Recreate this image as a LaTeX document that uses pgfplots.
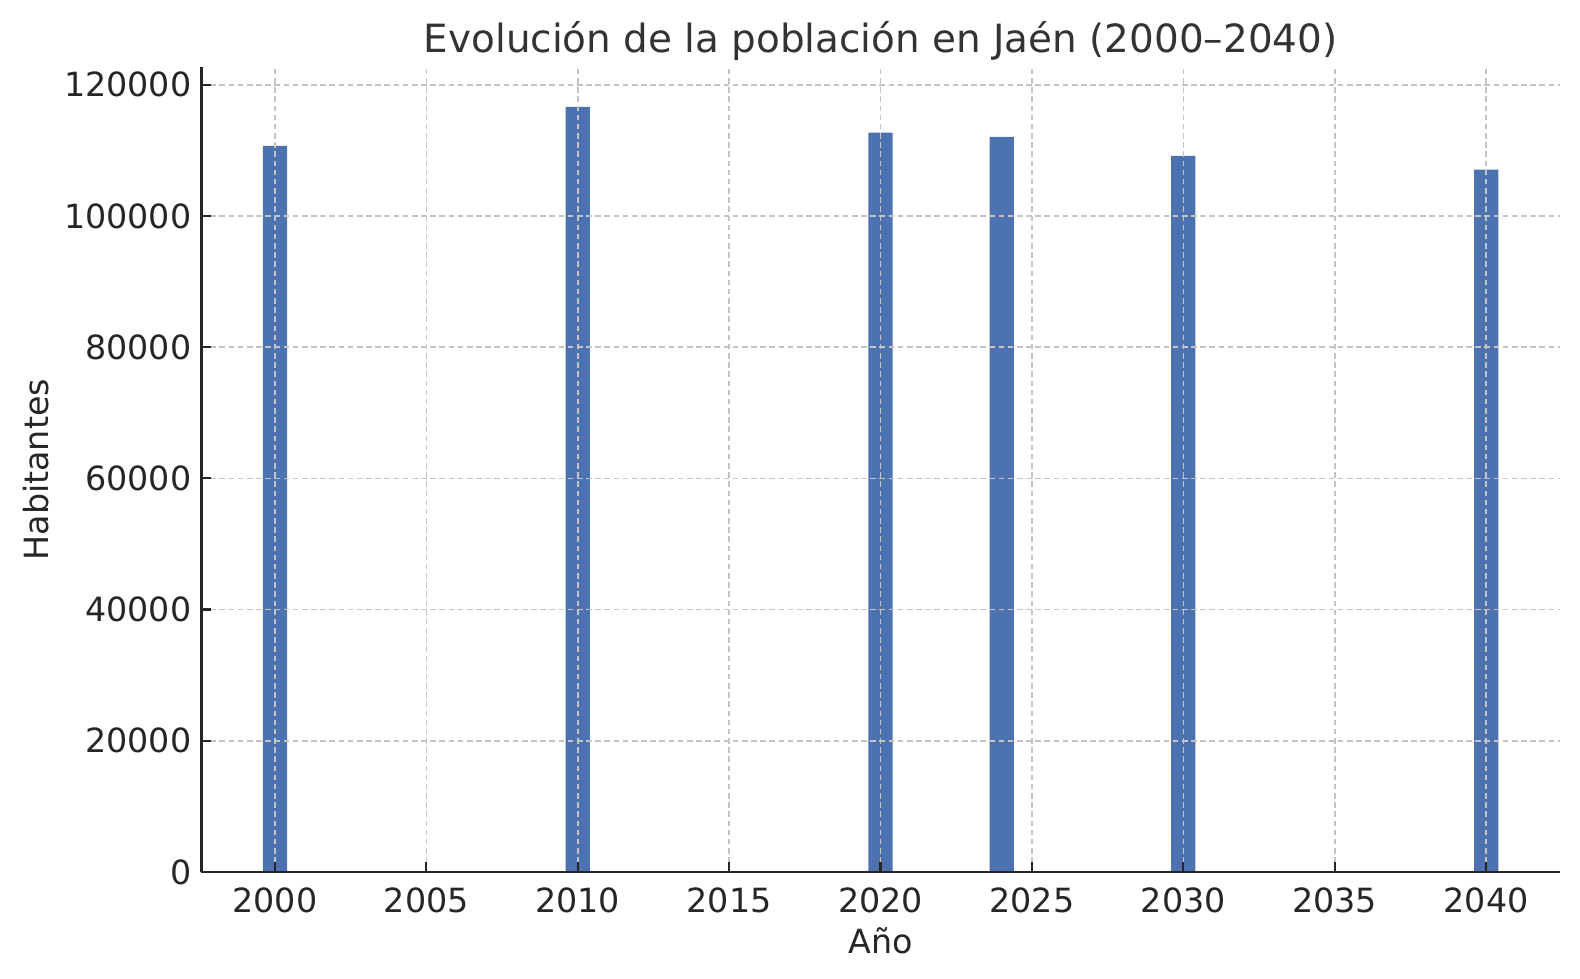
\documentclass[border=0pt]{standalone}
\usepackage{pgfplots}
\pgfplotsset{compat=1.18}
\usepackage{fontspec}
\setmainfont{DejaVu Sans}
\definecolor{barblue}{HTML}{4C72B0}
\definecolor{gridgray}{HTML}{C4C4C4}
\definecolor{txt}{HTML}{262626}
\definecolor{ttl}{HTML}{333333}
\begin{document}
\begin{tikzpicture}
\path[use as bounding box] (-72.4pt,-38.5pt) rectangle (496.4pt,313.9pt);
\begin{axis}[
  at={(0,0)}, anchor=south west,
  scale only axis,
  width=489.2pt, height=289.6pt,
  xmin=1997.56, xmax=2042.44,
  ymin=0, ymax=122640,
  axis lines*=left,
  axis line style={color=txt, line width=1pt},
  xtick={2000,2005,2010,2015,2020,2025,2030,2035,2040},
  xticklabels={2000,2005,2010,2015,2020,2025,2030,2035,2040},
  ytick={0,20000,40000,60000,80000,100000,120000},
  yticklabels={0,20000,40000,60000,80000,100000,120000},
  scaled y ticks=false,
  scaled x ticks=false,
  tick style={color=txt, line width=0.8pt},
  major tick length=3.5pt,
  tick label style={font=\fontsize{12}{14}\selectfont, color=txt},
  xticklabel style={yshift=-2pt},
  grid=major,
  major grid style={color=gridgray, line width=0.55pt, dash pattern=on 2pt off 1.3pt},
  axis on top,
  title={Evolución de la población en Jaén (2000–2040)},
  title style={font=\fontsize{14}{17}\selectfont, color=ttl, yshift=-7pt},
  xlabel={Año},
  ylabel={Habitantes},
  label style={font=\fontsize{12}{14}\selectfont, color=txt},
  xlabel style={yshift=1.5pt},
  ylabel style={yshift=-1.5pt},
]
\addplot[ybar, bar width=0.8, fill=barblue, draw=none] coordinates {
  (2000,110700) (2010,116650) (2020,112700) (2024,112080) (2030,109180) (2040,107050)
};
\end{axis}
\end{tikzpicture}
\end{document}
